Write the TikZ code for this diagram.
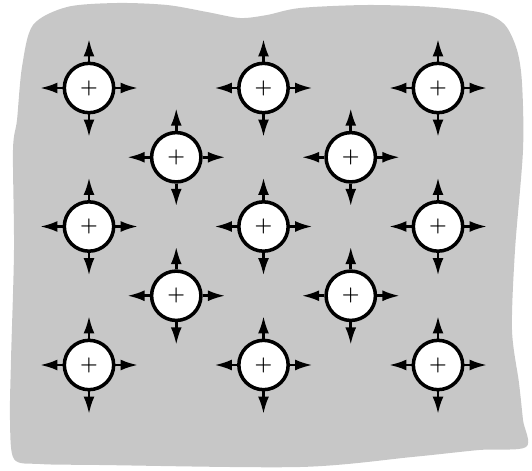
\documentclass[tikz,border=0pt]{standalone}
\usetikzlibrary{arrows.meta}
\begin{document}
\begin{tikzpicture}[x=0.03cm,y=-0.03cm,
    ion/.style={circle,draw,line width=3pt,fill=white,minimum size=1.48cm,inner sep=0pt,font=\fontsize{18}{18}\selectfont\boldmath},
    push/.style={line width=2.2pt,-{Latex[length=5.2mm,width=3.3mm]}}]
    \useasboundingbox(0,0)rectangle(532,470);
    \fill[black!22]plot[smooth cycle,tension=0.5]coordinates{
        (33,25)(67,7)(117,3)(167,5)(207,12)(240,18)(267,15)(300,8)(367,5)(433,7)(483,13)(505,25)
        (517,50)(522,83)(523,150)(515,250)(512,330)(519,383)(523,420)(526,447)
        (479,450)(412,457)(300,467)(100,465)(40,464)(14,459)
        (10,420)(11,360)(14,250)(13,150)(17,120)(22,67)};
    \foreach \c/\r in {0/0,2/0,4/0,1/1,3/1,0/2,2/2,4/2,1/3,3/3,0/4,2/4,4/4}{
        \node[ion](ion-\c-\r)at({89+87.25*\c},{88+69.25*\r}){$+$};
        \draw[push](ion-\c-\r.north)--++(0,-22.5);
        \draw[push](ion-\c-\r.south)--++(0,22.5);
        \draw[push](ion-\c-\r.west)--++(-22.5,0);
        \draw[push](ion-\c-\r.east)--++(22.5,0);
    }
\end{tikzpicture}
\end{document}
